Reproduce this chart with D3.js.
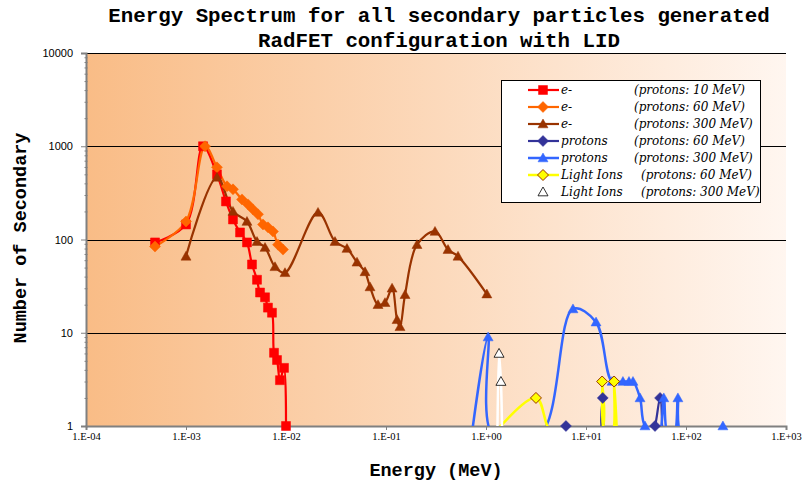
<!DOCTYPE html>
<html>
<head>
<meta charset="utf-8">
<script src="https://cdn.jsdelivr.net/npm/d3@7"></script>
<style>
  body { margin: 0; background: #fff; }
  svg { display: block; }
</style>
</head>
<body>
<div id="chart"></div>
<script>
// Data: [energy (MeV), number of secondaries]; 0 = nothing counted
const eProt10 = [
    [4.9e-4, 93], [1.0e-3, 145], [1.48e-3, 1000], [2.04e-3, 500], [2.51e-3, 256],
    [2.95e-3, 164], [3.47e-3, 119], [4.07e-3, 93], [4.57e-3, 54], [5.13e-3, 37],
    [5.5e-3, 27], [6.17e-3, 24], [6.6e-3, 18.6], [7.24e-3, 16.4], [7.59e-3, 6.1],
    [8.13e-3, 5.1], [8.7e-3, 3.1], [9.55e-3, 4.2], [1.0e-2, 1]
];
const eProt60 = [
    [4.9e-4, 84], [1.0e-3, 156], [1.55e-3, 1000], [2.04e-3, 594], [2.57e-3, 372],
    [2.95e-3, 345], [3.63e-3, 269], [4.17e-3, 238], [4.68e-3, 210], [5.25e-3, 186],
    [5.89e-3, 145], [6.6e-3, 135], [7.41e-3, 122], [8.32e-3, 88], [9.33e-3, 78]
];
const eProt300 = [
    [1.0e-3, 66], [2.04e-3, 464], [2.95e-3, 200], [4.07e-3, 156], [5.13e-3, 95],
    [6.17e-3, 82], [7.76e-3, 51], [9.77e-3, 44], [0.0209, 195], [0.0309, 95],
    [0.0407, 80], [0.0513, 57], [0.0617, 45], [0.0692, 31], [0.0832, 20],
    [0.0977, 21], [0.115, 30], [0.129, 13.8], [0.138, 11.6], [0.155, 25.6],
    [0.204, 88], [0.309, 122], [0.417, 78], [0.525, 66], [1.02, 26]
];
const protonsProt60 = [
    [6.3, 1], [14.0, 0], [14.7, 2], [15.3, 0], [45, 0], [49, 1], [55, 2], [58, 0]
];
const protonsProt300 = [
    [0.72, 0], [1.05, 9], [1.17, 0], [3.47, 0], [7.41, 18], [12.6, 13], [18.2, 3],
    [23.4, 3], [26.9, 3], [29.5, 3], [34.7, 2], [38.9, 1], [53, 0], [60, 2], [66, 0],
    [76, 0], [83, 2], [91, 0], [215, 0], [234, 1]
];
const ionsProt60 = [
    [1.17, 0], [3.16, 2], [4.68, 0], [13.8, 0], [14.5, 3], [15.5, 0], [18.2, 0], [19.1, 3], [20.4, 0]
];
const ionsProt300 = [
    [1.30, 0], [1.35, 6], [1.41, 3], [1.45, 0]
];

const seriesNames = ['e-', 'e-', 'e-', 'protons', 'protons', 'Light Ions', 'Light Ions'];
const seriesNotes = ['(protons: 10 MeV)', '(protons: 60 MeV)', '(protons: 300 MeV)',
    '(protons: 60 MeV)', '(protons: 300 MeV)', '(protons: 60 MeV)', '(protons: 300 MeV)'];

const xTicks = [1e-4, 1e-3, 1e-2, 1e-1, 1e0, 1e1, 1e2, 1e3];
const xTickLabels = ['1.E-04', '1.E-03', '1.E-02', '1.E-01', '1.E+00', '1.E+01', '1.E+02', '1.E+03'];
const yTicks = [1, 10, 100, 1000, 10000];
const yTickLabels = ['1', '10', '100', '1000', '10000'];

// zero counts cannot sit on a log axis: push them just under the bottom edge
const ZERO_FLOOR = 0.8;

const series = [
    { data: eProt10, color: '#FF0000', marker: 'square', fill: '#FF0000', stroke: '#FF0000', width: 2.2 },
    { data: eProt60, color: '#FF6600', marker: 'diamond', fill: '#FF6600', stroke: '#FF6600', width: 2.2 },
    { data: eProt300, color: '#993300', marker: 'triangle', fill: '#993300', stroke: '#993300', width: 2.2 },
    { data: protonsProt60, color: '#333399', marker: 'diamond', fill: '#333399', stroke: '#333399', width: 2.2 },
    { data: protonsProt300, color: '#3366FF', marker: 'triangle', fill: '#3366FF', stroke: '#3366FF', width: 2.5 },
    { data: ionsProt60, color: '#FFFF00', marker: 'diamond', fill: '#FFFF00', stroke: '#993300', width: 2.5 },
    { data: ionsProt300, color: '#FFFFFF', marker: 'triangle', fill: '#FFFFFF', stroke: '#000000', width: 2.5 }
];

const width = 805;
const height = 484;
const plot = { left: 86, right: 786, top: 53, bottom: 426 };

const svg = d3.select('#chart').append('svg')
    .attr('width', width)
    .attr('height', height);

const xScale = d3.scaleLog()
    .domain([1e-4, 1e3])
    .range([plot.left, plot.right]);

const yScale = d3.scaleLog()
    .domain([1, 1e4])
    .range([plot.bottom, plot.top]);

// Plot background gradient
const defs = svg.append('defs');
const grad = defs.append('linearGradient')
    .attr('id', 'bgGrad')
    .attr('x1', 0).attr('y1', 0)
    .attr('x2', 1).attr('y2', 0);
grad.append('stop').attr('offset', '0%').attr('stop-color', '#F9BC86');
grad.append('stop').attr('offset', '100%').attr('stop-color', '#FFF6F0');

defs.append('clipPath')
    .attr('id', 'plotClip')
    .append('rect')
    .attr('x', plot.left)
    .attr('y', plot.top)
    .attr('width', plot.right - plot.left)
    .attr('height', plot.bottom - plot.top);

svg.append('rect')
    .attr('x', plot.left)
    .attr('y', plot.top)
    .attr('width', plot.right - plot.left)
    .attr('height', plot.bottom - plot.top)
    .attr('fill', 'url(#bgGrad)');

// Gridlines
svg.append('g')
    .selectAll('line')
    .data(yTicks.slice(1))
    .enter().append('line')
    .attr('x1', plot.left)
    .attr('x2', plot.right)
    .attr('y1', d => Math.round(yScale(d)) + 0.5)
    .attr('y2', d => Math.round(yScale(d)) + 0.5)
    .attr('stroke', '#000')
    .attr('stroke-width', 1);

// Axes
const xAxis = d3.axisBottom(xScale)
    .tickValues(xTicks)
    .tickFormat((d, i) => xTickLabels[i])
    .tickSize(4)
    .tickPadding(3);

const gx = svg.append('g')
    .attr('transform', `translate(0, ${plot.bottom})`)
    .call(xAxis);
gx.select('.domain').attr('stroke', '#808080').attr('stroke-width', 2);
gx.selectAll('.tick line').attr('stroke', '#808080');
gx.selectAll('text')
    .style('font-family', '"Liberation Serif", serif')
    .style('font-size', '10.5px')
    .attr('fill', '#000');

const yMinor = [];
yTicks.slice(0, -1).forEach(t => d3.range(2, 10).forEach(m => yMinor.push(t * m)));

svg.append('g')
    .attr('transform', `translate(${plot.left}, 0)`)
    .call(d3.axisLeft(yScale).tickValues(yMinor).tickSize(3).tickFormat(''))
    .call(g => g.select('.domain').remove())
    .call(g => g.selectAll('.tick line').attr('stroke', '#808080').attr('transform', 'translate(1.5,0)'));

const gy = svg.append('g')
    .attr('transform', `translate(${plot.left}, 0)`)
    .call(d3.axisLeft(yScale)
        .tickValues(yTicks)
        .tickFormat((d, i) => yTickLabels[i])
        .tickSize(5)
        .tickPadding(8));
gy.select('.domain').attr('stroke', '#808080').attr('stroke-width', 2);
gy.selectAll('.tick line').attr('stroke', '#808080');
gy.selectAll('text')
    .style('font-family', '"Liberation Sans", Arial, sans-serif')
    .style('font-size', '11px')
    .attr('fill', '#000');

// Lines
const line = d3.line()
    .x(d => xScale(d[0]))
    .y(d => yScale(Math.max(d[1], ZERO_FLOOR)))
    .curve(d3.curveCatmullRom.alpha(0.5));

const lineLayer = svg.append('g').attr('clip-path', 'url(#plotClip)');

function markerPath(type, r) {
    if (type === 'square') return `M${-r},${-r}H${r}V${r}H${-r}Z`;
    if (type === 'diamond') return `M0,${-r - 1}L${r + 1},0L0,${r + 1}L${-r - 1},0Z`;
    return `M0,${-r - 0.5}L${r + 0.5},${r * 0.85}L${-r - 0.5},${r * 0.85}Z`;
}

function markerStroke(s) {
    if (s.fill === '#FFFF00') return 1;
    if (s.fill === '#FFFFFF') return 0.8;
    return 0.5;
}

series.forEach(s => {
    lineLayer.append('path')
        .datum(s.data)
        .attr('d', line)
        .attr('fill', 'none')
        .attr('stroke', s.color)
        .attr('stroke-width', s.width)
        .attr('stroke-linejoin', 'round');
});

series.forEach(s => {
    svg.append('g')
        .selectAll('path')
        .data(s.data.filter(d => d[1] >= 1))
        .enter().append('path')
        .attr('transform', d => `translate(${xScale(d[0])}, ${yScale(d[1])})`)
        .attr('d', markerPath(s.marker, 4.5))
        .attr('fill', s.fill)
        .attr('stroke', s.stroke)
        .attr('stroke-width', markerStroke(s));
});

// Titles
const titleFont = '"Liberation Mono", "Courier New", monospace';
svg.append('text')
    .attr('x', 439)
    .attr('y', 22)
    .style('text-anchor', 'middle')
    .style('font-family', titleFont)
    .style('font-weight', 'bold')
    .style('font-size', '20.8px')
    .text('Energy Spectrum for all secondary particles generated');

svg.append('text')
    .attr('x', 439)
    .attr('y', 47)
    .style('text-anchor', 'middle')
    .style('font-family', titleFont)
    .style('font-weight', 'bold')
    .style('font-size', '20.8px')
    .text('RadFET configuration with LID');

svg.append('text')
    .attr('x', 436)
    .attr('y', 476)
    .style('text-anchor', 'middle')
    .style('font-family', titleFont)
    .style('font-weight', 'bold')
    .style('font-size', '18.5px')
    .text('Energy (MeV)');

svg.append('text')
    .attr('transform', 'rotate(-90)')
    .attr('x', -238)
    .attr('y', 26)
    .style('text-anchor', 'middle')
    .style('font-family', titleFont)
    .style('font-weight', 'bold')
    .style('font-size', '18.5px')
    .text('Number of Secondary');

// Legend
const legend = svg.append('g')
    .attr('class', 'legend')
    .attr('transform', 'translate(501, 80)');

legend.append('rect')
    .attr('x', 0.5)
    .attr('y', 0.5)
    .attr('width', 259)
    .attr('height', 122)
    .attr('fill', '#fff')
    .attr('stroke', '#000');

series.forEach((s, i) => {
    const row = legend.append('g')
        .attr('transform', `translate(0, ${10 + i * 17})`);
    row.append('line')
        .attr('x1', 27).attr('x2', 58)
        .attr('y1', 0).attr('y2', 0)
        .attr('stroke', s.color)
        .attr('stroke-width', s.width);
    row.append('path')
        .attr('transform', 'translate(42, 0)')
        .attr('d', markerPath(s.marker, 4.5))
        .attr('fill', s.fill)
        .attr('stroke', s.stroke)
        .attr('stroke-width', markerStroke(s));
    row.append('text')
        .attr('x', 60)
        .attr('y', 4)
        .style('font-family', '"DejaVu Serif", serif')
        .style('font-style', 'italic')
        .style('font-size', '12px')
        .text(seriesNames[i]);
    row.append('text')
        .attr('x', i < 5 ? 133 : 140)
        .attr('y', 4)
        .style('font-family', '"DejaVu Serif", serif')
        .style('font-style', 'italic')
        .style('font-size', '12px')
        .text(seriesNotes[i]);
});
</script>
</body>
</html>
